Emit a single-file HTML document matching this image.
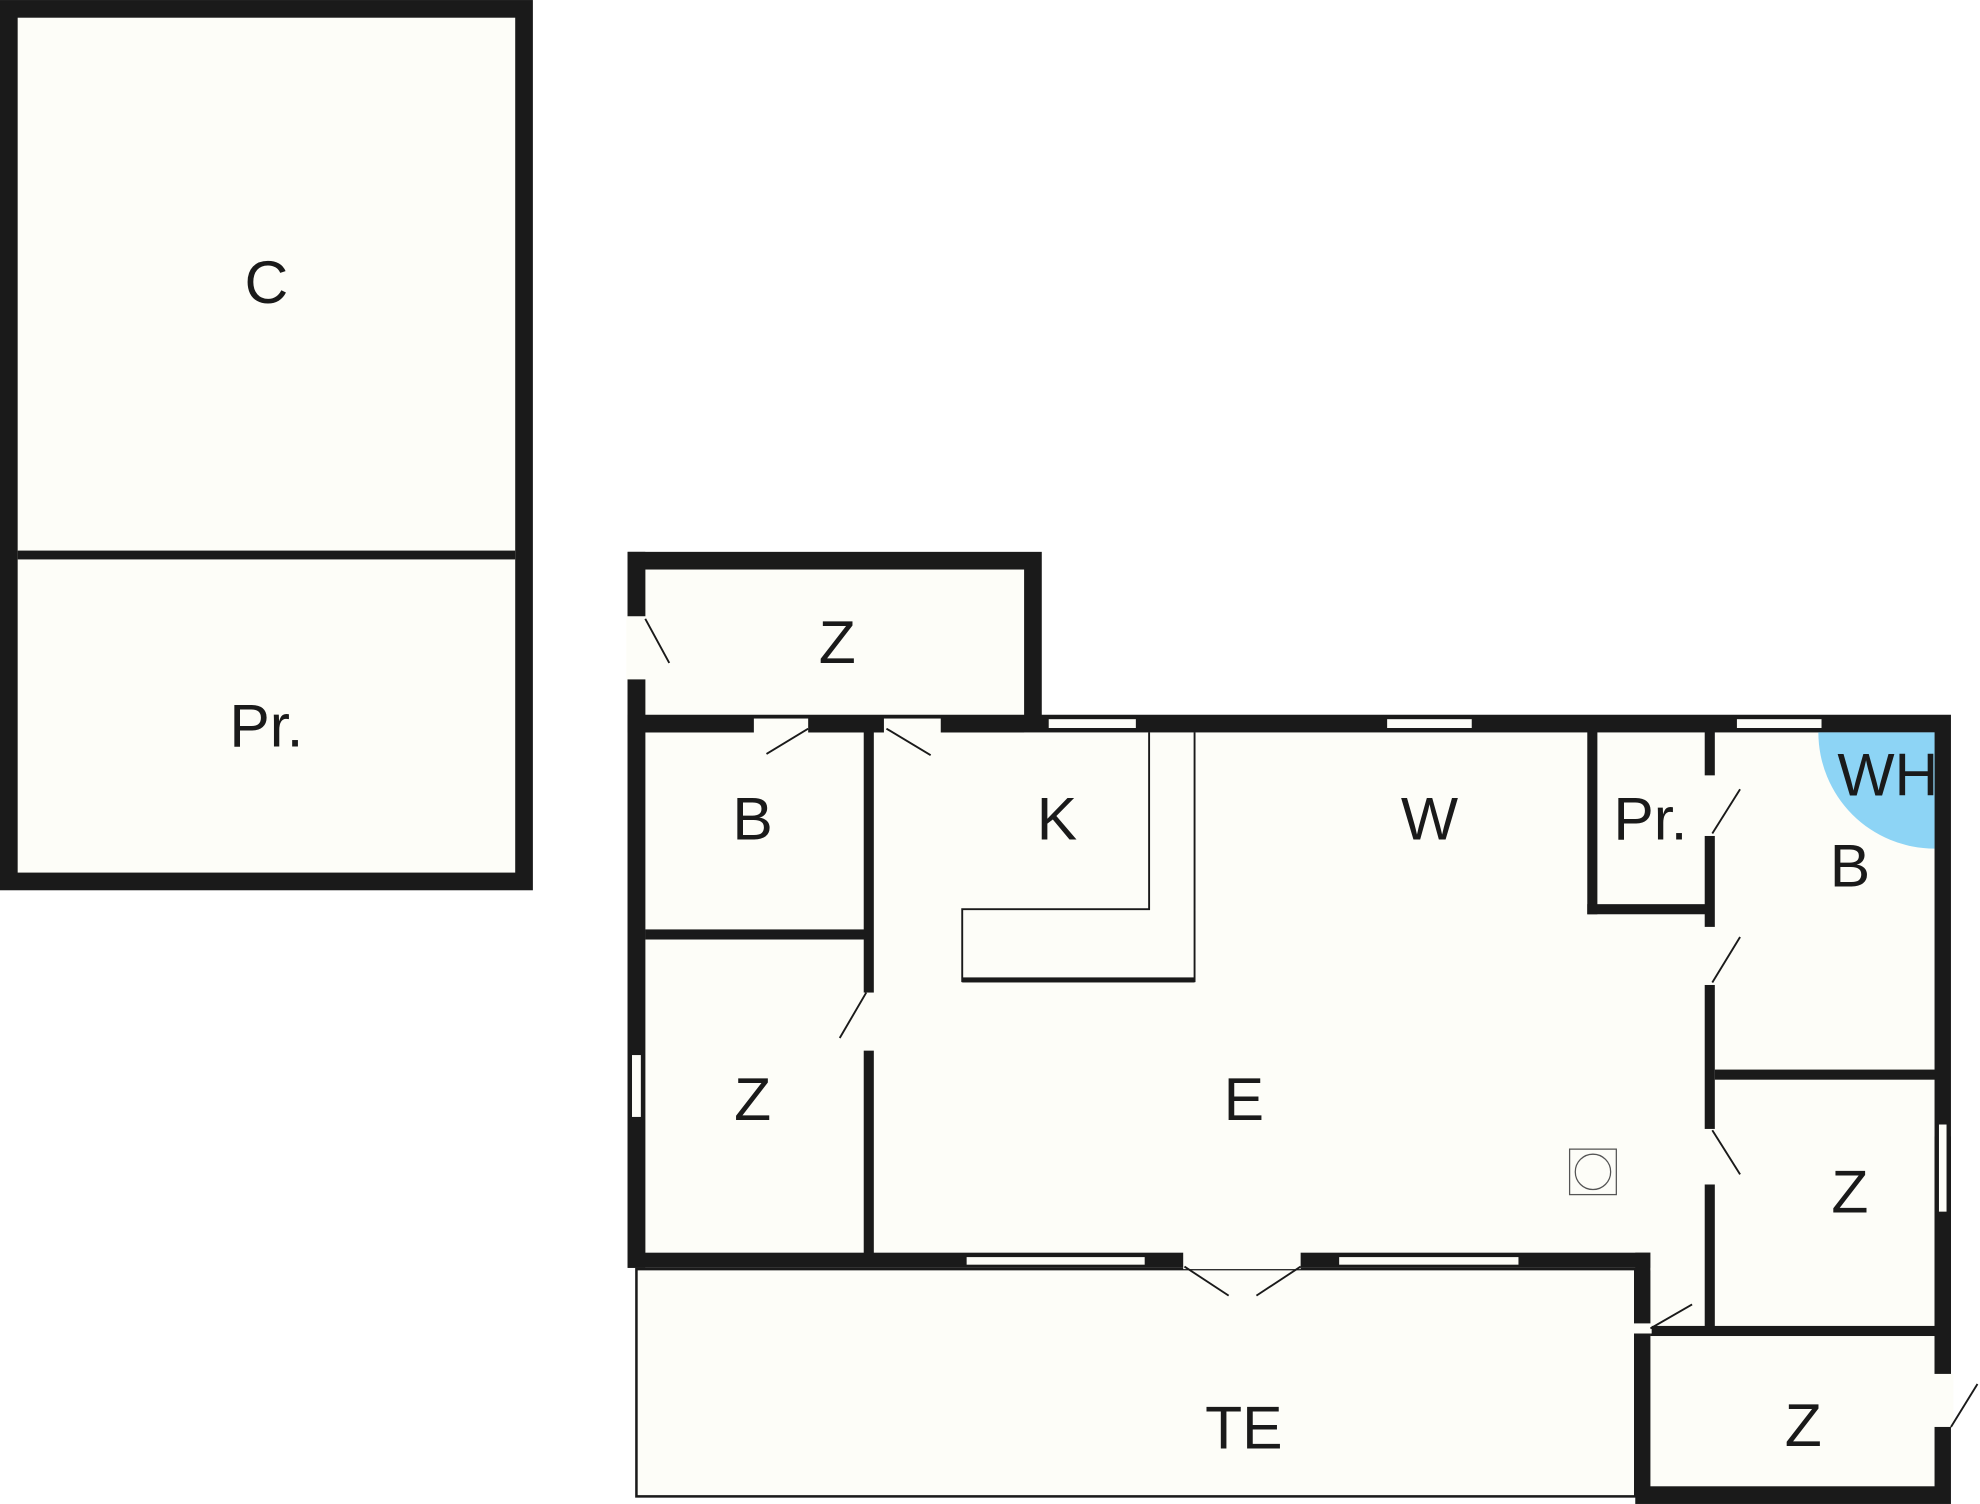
<!DOCTYPE html>
<html><head><meta charset="utf-8"><style>
html,body{margin:0;padding:0;background:#fff;}
svg{display:block;}
text{font-family:"Liberation Sans",sans-serif;font-size:48px;fill:#1a1a1a;text-anchor:middle;}
</style></head><body>
<svg width="1980" height="1504" viewBox="0 0 1568 1191" xmlns="http://www.w3.org/2000/svg">
<rect width="1568" height="1191" fill="#fff"/>
<!-- left building -->
<rect x="0" y="0" width="422" height="705" fill="#1a1a1a"/>
<rect x="14" y="14" width="394" height="677" fill="#fdfdf8"/>
<rect x="14" y="436" width="394" height="7" fill="#1a1a1a"/>
<text x="211" y="240">C</text>
<text x="211" y="591">Pr.</text>

<!-- main house fills -->
<rect x="497" y="437" width="328" height="143" fill="#1a1a1a"/>
<rect x="511" y="451" width="300" height="120" fill="#fdfdf8"/>
<rect x="497" y="566" width="1048" height="438" fill="#1a1a1a"/>
<rect x="511" y="580" width="1021" height="412" fill="#fdfdf8"/>
<rect x="497" y="437" width="14" height="567" fill="#1a1a1a"/>
<rect x="511" y="570" width="300" height="10" fill="#1a1a1a"/>
<!-- right extension -->
<rect x="1295" y="992" width="250" height="199" fill="#1a1a1a"/>
<rect x="1307" y="1004" width="225" height="173" fill="#fdfdf8"/>
<rect x="1307" y="990" width="225" height="16" fill="#fdfdf8"/>
<rect x="1532" y="900" width="13" height="200" fill="#1a1a1a"/>
<!-- terrace -->
<rect x="504" y="1005" width="791" height="180" fill="#fdfdf8" stroke="#1a1a1a" stroke-width="2"/>

<!-- interior walls -->
<rect x="684" y="578" width="8" height="208" fill="#1a1a1a"/>
<rect x="684" y="832" width="8" height="162" fill="#1a1a1a"/>
<rect x="511" y="736" width="175" height="8" fill="#1a1a1a"/>
<rect x="1257" y="578" width="8" height="146" fill="#1a1a1a"/>
<rect x="1257" y="716" width="98" height="8" fill="#1a1a1a"/>
<rect x="1350" y="578" width="8" height="36" fill="#1a1a1a"/>
<rect x="1350" y="662" width="8" height="72" fill="#1a1a1a"/>
<rect x="1350" y="780" width="8" height="114" fill="#1a1a1a"/>
<rect x="1350" y="938" width="8" height="118" fill="#1a1a1a"/>
<rect x="1358" y="847" width="176" height="8" fill="#1a1a1a"/>
<rect x="1307" y="1050" width="227" height="8" fill="#1a1a1a"/>

<!-- windows / openings -->
<g fill="#fdfdf8" stroke="#1a1a1a" stroke-width="1">
<rect x="830" y="569" width="70" height="8"/>
<rect x="1098" y="569" width="68" height="8"/>
<rect x="1375" y="569" width="68" height="8"/>
<rect x="765" y="995" width="142" height="7"/>
<rect x="1060" y="995" width="143" height="7"/>
<rect x="500" y="835" width="8" height="50"/>
<rect x="1535" y="890" width="7" height="70"/>
</g>
<g fill="#fdfdf8">
<rect x="496" y="488" width="16" height="50"/>
<rect x="597" y="569" width="43" height="12"/>
<rect x="700" y="569" width="45" height="12"/>
<rect x="937" y="991" width="93" height="14"/>
<rect x="1531" y="1088" width="16" height="42"/>
<rect x="1294" y="1048" width="14" height="8"/>
</g>
<!-- door swings -->
<g stroke="#1a1a1a" stroke-width="1.5">
<line x1="511" y1="490" x2="530" y2="525"/>
<line x1="640" y1="577" x2="607" y2="597"/>
<line x1="702" y1="577" x2="737" y2="598"/>
<line x1="686" y1="786" x2="665" y2="822"/>
<line x1="1356" y1="660" x2="1378" y2="625"/>
<line x1="1356" y1="778" x2="1378" y2="742"/>
<line x1="1356" y1="895" x2="1378" y2="930"/>
<line x1="938" y1="1003" x2="973" y2="1026"/>
<line x1="1030" y1="1003" x2="995" y2="1026"/>
<line x1="1307" y1="1052" x2="1340" y2="1033"/>
<line x1="1545" y1="1130" x2="1566" y2="1096"/>
</g>
<!-- kitchen counter -->
<g stroke="#1a1a1a" stroke-width="1.5" fill="none">
<polyline points="910,580 910,720 762,720 762,777 946,777 946,580"/>
</g>
<rect x="762" y="774" width="184" height="4" fill="#1a1a1a"/>
<!-- stove symbol -->
<rect x="1243" y="910" width="37" height="36" fill="none" stroke="#555" stroke-width="1"/>
<circle cx="1261.5" cy="928" r="14" fill="none" stroke="#555" stroke-width="1"/>
<!-- WH -->
<path d="M1532,580 L1440,580 A92,92 0 0 0 1532,672 Z" fill="#8dd4f5"/>
<text x="1495" y="630">WH</text>

<text x="663" y="525">Z</text>
<text x="596" y="665">B</text>
<text x="837" y="665">K</text>
<text x="1132" y="665">W</text>
<text x="1307" y="665">Pr.</text>
<text x="1465" y="702">B</text>
<text x="596" y="887">Z</text>
<text x="985" y="887">E</text>
<text x="1465" y="960">Z</text>
<text x="985" y="1147">TE</text>
<text x="1428" y="1145">Z</text>
</svg>
</body></html>
